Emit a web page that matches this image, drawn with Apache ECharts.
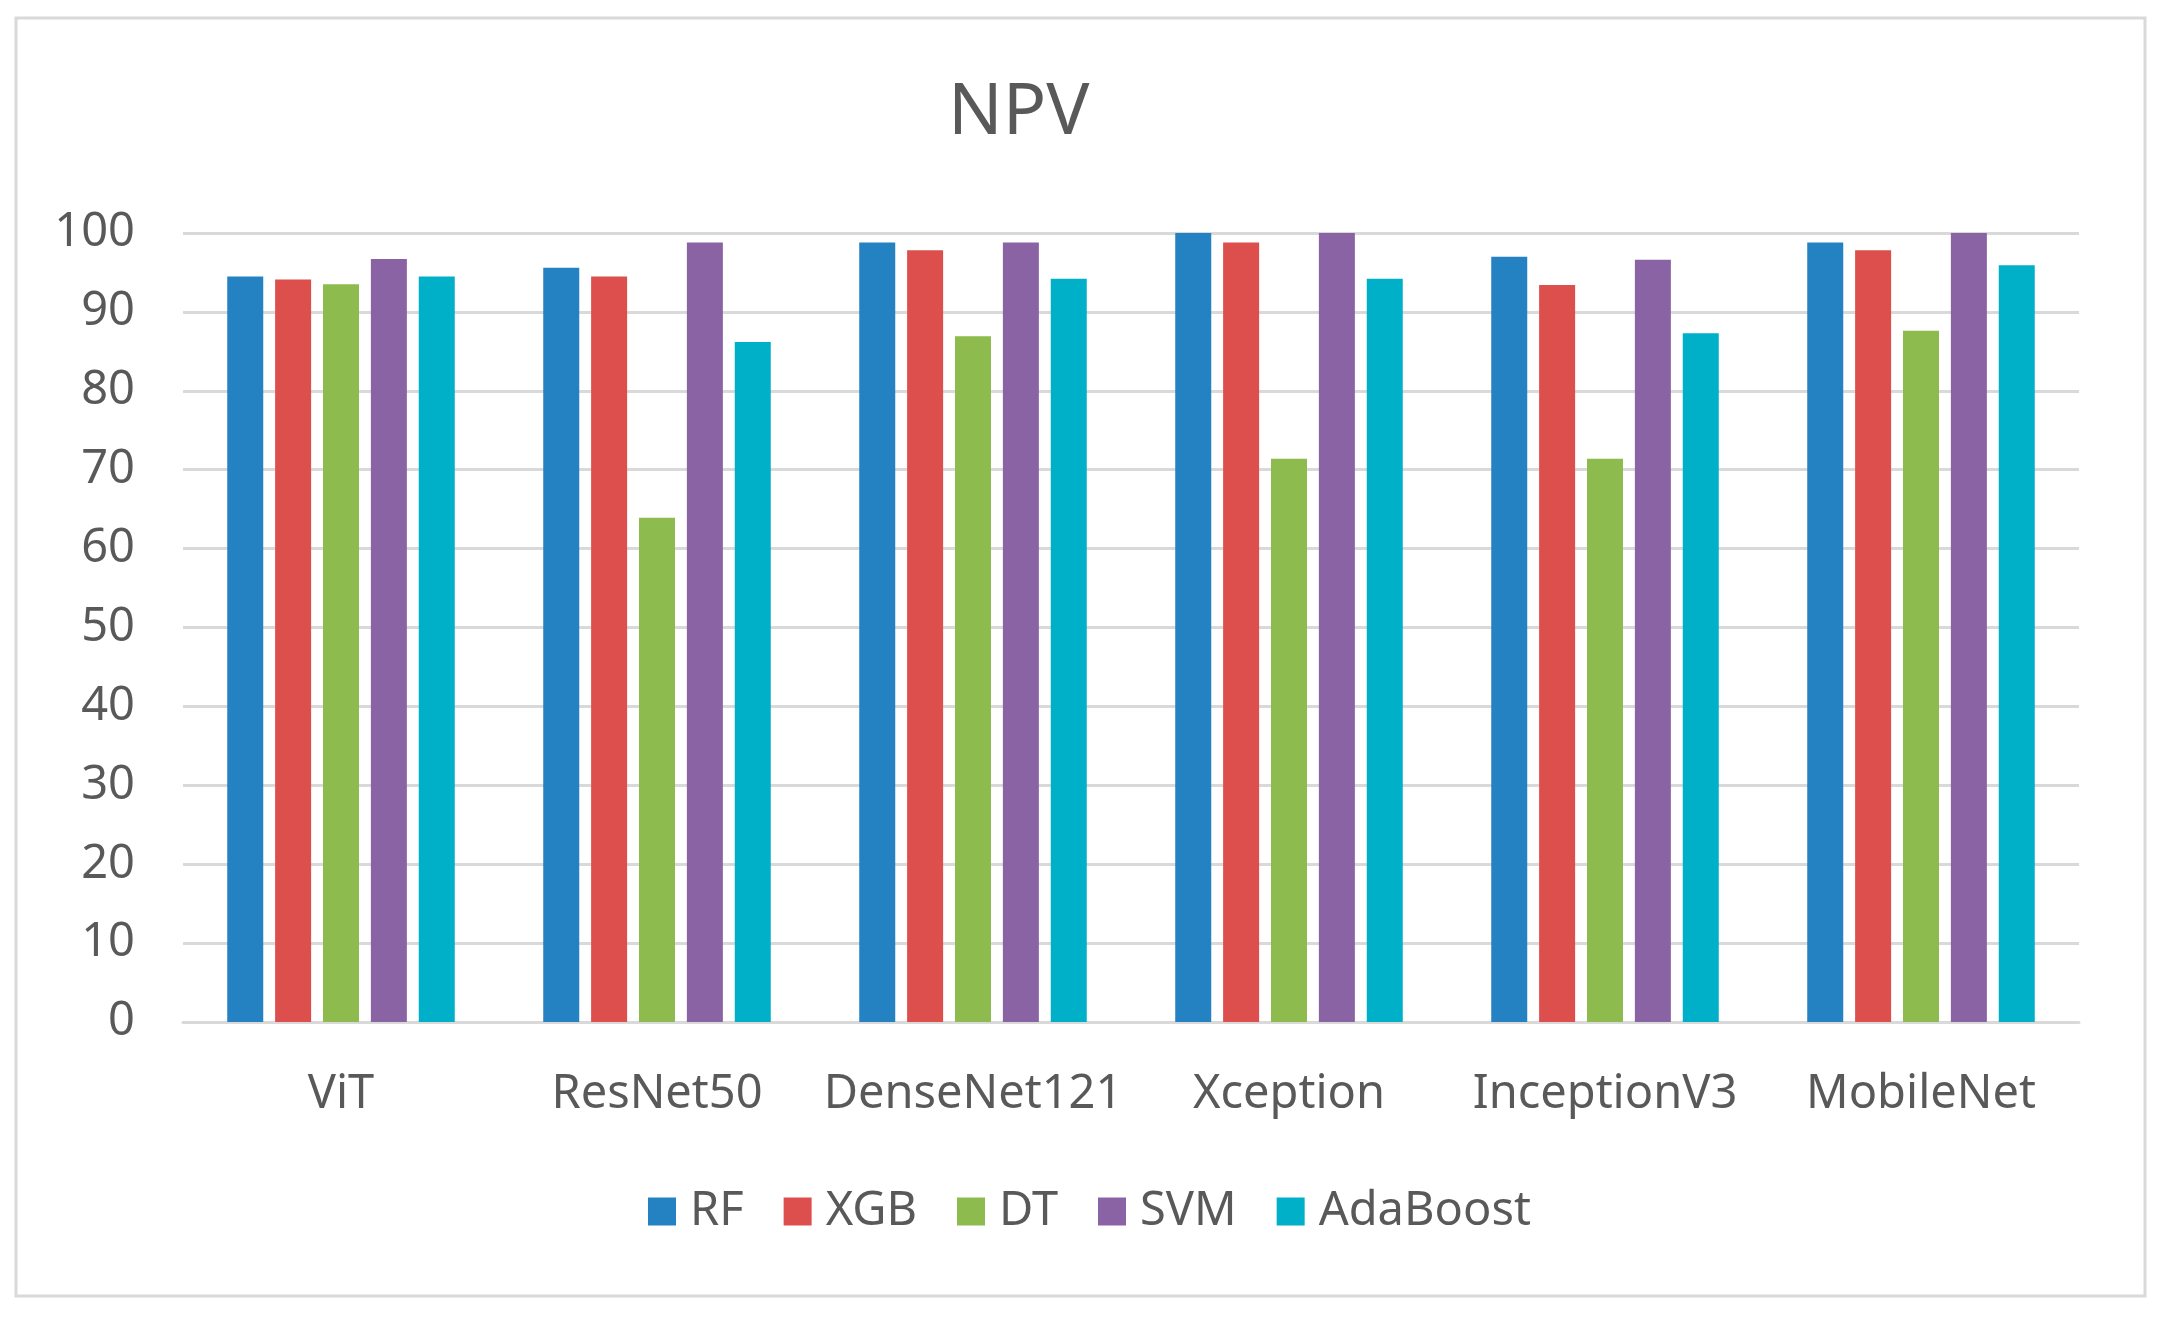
<!DOCTYPE html>
<html>
<head>
<meta charset="utf-8">
<script src="https://cdn.jsdelivr.net/npm/echarts@6/dist/echarts.min.js"></script>
<style>
  html, body { margin: 0; padding: 0; background: #ffffff; }
  #chart { width: 2162px; height: 1317px; }
</style>
</head>
<body>
<div id="chart"></div>
<script>
const categories = ['ViT', 'ResNet50', 'DenseNet121', 'Xception', 'InceptionV3', 'MobileNet'];
const seriesNames = ['RF', 'XGB', 'DT', 'SVM', 'AdaBoost'];
const RF = [94.5, 95.6, 98.8, 100, 97.0, 98.8];
const XGB = [94.1, 94.5, 97.8, 98.8, 93.4, 97.8];
const DT = [93.5, 63.9, 86.9, 71.4, 71.4, 87.6];
const SVM = [96.7, 98.8, 98.8, 100, 96.6, 100];
const AdaBoost = [94.5, 86.2, 94.2, 94.2, 87.3, 95.9];
const yTicks = { min: 0, max: 100, interval: 10 };

const values = [RF, XGB, DT, SVM, AdaBoost];
const colors = ['#2481c2', '#dd4f4d', '#8dbb4d', '#8a63a5', '#00afc8'];
const font = "'Noto Sans', 'Open Sans', sans-serif";
const textColor = '#595959';

const chart = echarts.init(document.getElementById('chart'), null, { renderer: 'canvas' });
chart.setOption({
  backgroundColor: '#ffffff',
  animation: false,
  color: colors,
  graphic: [{
    type: 'rect',
    shape: { x: 16, y: 18, width: 2129, height: 1278 },
    style: { fill: 'none', stroke: '#d9d9d9', lineWidth: 3 },
    silent: true
  }],
  title: {
    text: 'NPV',
    left: 943,
    top: 72,
    textStyle: { fontFamily: font, fontSize: 72, fontWeight: 'normal', color: textColor }
  },
  legend: {
    data: seriesNames,
    left: 643,
    top: 1183,
    itemWidth: 28,
    itemHeight: 28,
    itemGap: 40,
    icon: 'rect',
    textStyle: { fontFamily: font, fontSize: 47, color: textColor, padding: [0, 0, 0, 9] }
  },
  grid: { left: 183, right: 83, top: 233, bottom: 295, containLabel: false },
  xAxis: {
    type: 'category',
    data: categories,
    axisLine: { show: true, lineStyle: { color: '#d9d9d9', width: 3 } },
    axisTick: { show: false },
    axisLabel: { fontFamily: font, fontSize: 47, color: textColor, margin: 49, interval: 0 }
  },
  yAxis: {
    type: 'value',
    min: yTicks.min,
    max: yTicks.max,
    interval: yTicks.interval,
    axisLine: { show: false },
    axisTick: { show: false },
    splitLine: { show: true, lineStyle: { color: '#d9d9d9', width: 3 } },
    axisLabel: { fontFamily: font, fontSize: 47, color: textColor, margin: 48 }
  },
  series: seriesNames.map((name, i) => ({
    name: name,
    type: 'bar',
    data: values[i],
    barWidth: 36,
    barGap: '33%',
    itemStyle: { color: colors[i] }
  }))
});
</script>
</body>
</html>
